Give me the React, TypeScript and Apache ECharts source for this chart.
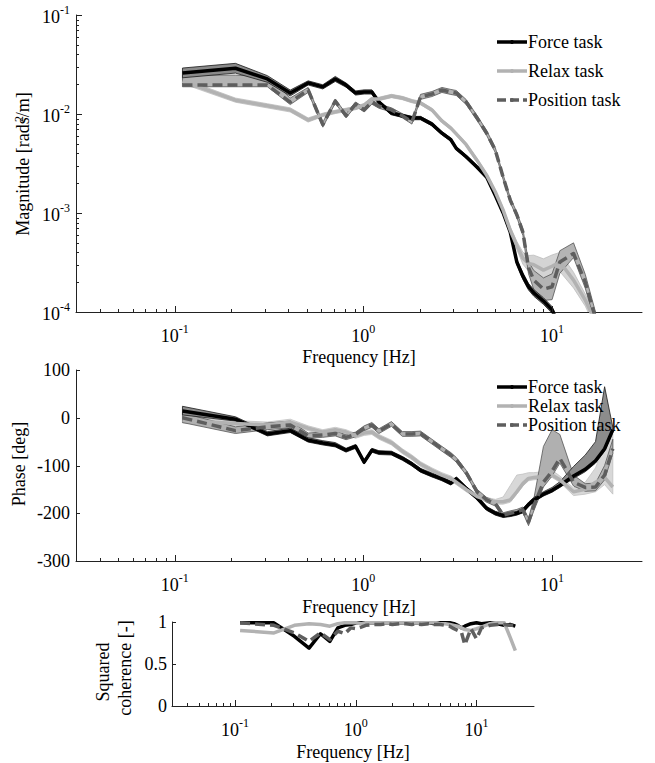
import React, { useEffect, useRef } from "react";
import * as echarts from "echarts";

// ---------------- data ----------------
const freqs = [0.11, 0.21, 0.31, 0.41, 0.51, 0.61, 0.71, 0.81, 0.91, 1.01, 1.11, 1.21, 1.41, 1.61, 1.81, 2.01, 2.31, 2.61, 2.91, 3.11, 3.51, 4.01, 4.51, 5.01, 5.51, 6.01, 6.51, 7.01, 7.51, 8.01, 9.01, 10.01, 11.01, 13.01, 15.01, 17.01, 19.01, 21.01];

const forceMag = [0.026, 0.029, 0.0226, 0.0163, 0.0206, 0.0188, 0.0226, 0.0196, 0.0163, 0.0167, 0.0167, 0.0132, 0.0102, 0.0096, 0.0091, 0.0091, 0.0079, 0.0064, 0.0055, 0.0045, 0.0037, 0.0029, 0.0023, 0.0015, 0.001, 0.00064, 0.00032, 0.00023, 0.00018, 0.000156, 0.000129, 0.000105, 0.00007, 0.00004, 0.00003, 0.00002, 0.000015, 0.00001];
const relaxMag = [0.0215, 0.0138, 0.0121, 0.011, 0.0087, 0.0098, 0.0105, 0.011, 0.0115, 0.0123, 0.0142, 0.0142, 0.0152, 0.0145, 0.0135, 0.0129, 0.011, 0.0085, 0.0072, 0.0063, 0.0049, 0.0034, 0.0024, 0.00163, 0.00107, 0.00067, 0.00047, 0.00035, 0.00031, 0.0003, 0.000265, 0.00029, 0.00032, 0.00021, 0.000132, 0.000079, 0.00005, 0.00003];
const positionMag = [0.0196, 0.0196, 0.0196, 0.0132, 0.0175, 0.0078, 0.0135, 0.0096, 0.0126, 0.011, 0.0132, 0.012, 0.011, 0.0096, 0.0083, 0.0149, 0.0159, 0.0175, 0.0167, 0.0163, 0.0132, 0.0091, 0.0064, 0.0043, 0.0023, 0.00135, 0.00096, 0.00064, 0.00028, 0.00021, 0.00017, 0.00018, 0.00032, 0.00039, 0.0002, 0.000087, 0.00005, 0.000034];

// confidence band spread (multiplicative factors up / down)
const forceMagSpread = [1.12, 1.12, 1.08, 1.07, 1.05, 1.05, 1.06, 1.05, 1.05, 1.05, 1.05, 1.04, 1.04, 1.04, 1.04, 1.04, 1.04, 1.04, 1.04, 1.04, 1.04, 1.04, 1.04, 1.04, 1.04, 1.04, 1.06, 1.08, 1.08, 1.08, 1.08, 1.08, 1.1, 1.1, 1.1, 1.1, 1.1, 1.1];
const relaxMagSpread = [1.06, 1.05, 1.05, 1.05, 1.05, 1.04, 1.04, 1.04, 1.04, 1.04, 1.04, 1.04, 1.04, 1.04, 1.04, 1.04, 1.04, 1.04, 1.04, 1.04, 1.04, 1.04, 1.05, 1.05, 1.05, 1.08, 1.1, 1.15, 1.2, 1.25, 1.3, 1.3, 1.25, 1.2, 1.15, 1.15, 1.15, 1.15];
const positionMagUp = [1.26, 1.26, 1.22, 1.1, 1.06, 1.06, 1.05, 1.05, 1.05, 1.05, 1.05, 1.05, 1.05, 1.05, 1.05, 1.06, 1.06, 1.06, 1.06, 1.06, 1.06, 1.06, 1.06, 1.06, 1.06, 1.06, 1.06, 1.08, 1.15, 1.25, 1.3, 1.35, 1.3, 1.28, 1.2, 1.15, 1.15, 1.15];
const positionMagDown = [1.04, 1.04, 1.04, 1.06, 1.06, 1.06, 1.05, 1.05, 1.05, 1.05, 1.05, 1.05, 1.05, 1.05, 1.05, 1.06, 1.06, 1.06, 1.06, 1.06, 1.06, 1.06, 1.06, 1.06, 1.06, 1.06, 1.06, 1.08, 1.15, 1.25, 1.3, 1.35, 1.3, 1.1, 1.15, 1.15, 1.15, 1.15];

const forcePhase = [14, -3, -34, -27, -47, -53, -57, -68, -60, -93, -68, -73, -74, -85, -97, -110, -120, -128, -137, -128, -148, -168, -190, -200, -205, -203, -200, -195, -182, -172, -160, -152, -142, -122, -108, -90, -65, -25];
const relaxPhase = [-5, -12, -15, -9, -22, -30, -25, -30, -38, -32, -30, -40, -52, -70, -83, -97, -110, -120, -127, -135, -150, -165, -172, -176, -176, -172, -155, -138, -127, -125, -123, -120, -130, -155, -150, -135, -125, -145];
const positionPhase = [0, -27, -19, -15, -38, -36, -33, -41, -35, -22, -15, -28, -13, -34, -34, -33, -50, -65, -78, -88, -115, -155, -172, -180, -204, -200, -197, -193, -218, -185, -135, -112, -85, -135, -146, -145, -120, -65];

// phase band spread (degrees up / down)
const forcePhaseUp = [10, 5, 5, 5, 5, 5, 5, 4, 4, 4, 4, 4, 4, 4, 4, 4, 4, 4, 4, 4, 4, 4, 4, 4, 4, 4, 4, 5, 5, 5, 5, 6, 8, 20, 30, 40, 130, 5];
const forcePhaseDown = [8, 4, 4, 4, 4, 4, 4, 4, 4, 4, 4, 4, 4, 4, 4, 4, 4, 4, 4, 4, 4, 4, 4, 4, 4, 4, 4, 4, 4, 4, 4, 4, 4, 5, 5, 5, 5, 5];
const relaxPhaseUp = [8, 6, 6, 6, 5, 5, 5, 5, 5, 5, 5, 5, 5, 5, 5, 5, 5, 5, 5, 5, 5, 5, 5, 5, 10, 30, 35, 20, 12, 10, 10, 10, 8, 8, 15, 30, 70, 110];
const relaxPhaseDown = [6, 5, 5, 5, 5, 5, 5, 5, 5, 5, 5, 5, 5, 5, 5, 5, 5, 5, 5, 5, 5, 5, 5, 5, 5, 5, 5, 5, 5, 5, 5, 5, 5, 8, 10, 20, 15, 15];
const positionPhaseUp = [10, 8, 8, 8, 6, 6, 6, 5, 5, 5, 5, 5, 5, 5, 5, 5, 5, 5, 5, 5, 5, 5, 5, 5, 5, 5, 5, 6, 8, 15, 75, 87, 50, 15, 8, 8, 20, 20];
const positionPhaseDown = [10, 6, 6, 6, 5, 5, 5, 5, 5, 5, 5, 5, 5, 5, 5, 5, 5, 5, 5, 5, 5, 5, 5, 5, 5, 5, 5, 6, 8, 10, 10, 10, 10, 8, 8, 8, 10, 10];

const forceCoh = [0.99, 0.99, 0.83, 0.69, 0.86, 0.77, 0.93, 0.96, 0.97, 0.99, 0.99, 0.99, 0.99, 0.99, 0.99, 0.99, 0.99, 0.99, 0.99, 0.99, 0.99, 0.99, 0.98, 0.99, 0.99, 0.99, 0.98, 0.96, 0.93, 0.95, 0.98, 0.99, 0.98, 0.99, 0.98, 0.96, 0.97, 0.95];
const relaxCoh = [0.9, 0.87, 0.96, 0.98, 0.97, 0.95, 0.98, 0.99, 0.99, 0.99, 0.98, 0.99, 0.99, 0.99, 0.99, 0.99, 0.99, 0.99, 0.99, 0.99, 0.99, 0.99, 0.99, 0.98, 0.98, 0.97, 0.96, 0.95, 0.93, 0.91, 0.9, 0.92, 0.94, 0.98, 0.99, 0.99, 0.82, 0.66];
const positionCoh = [0.99, 0.96, 0.87, 0.77, 0.87, 0.79, 0.89, 0.86, 0.93, 0.92, 0.94, 0.96, 0.97, 0.97, 0.98, 0.97, 0.98, 0.98, 0.97, 0.98, 0.97, 0.98, 0.97, 0.97, 0.96, 0.95, 0.92, 0.9, 0.88, 0.73, 0.92, 0.8, 0.93, 0.96, 0.97, 0.97, 0.96, 0.96];

const legendNames = ["Force task", "Relax task", "Position task"];

const xMajorTicks = [0.1, 1, 10];
const xMinorTicks = [0.04, 0.05, 0.06, 0.07, 0.08, 0.09, 0.2, 0.3, 0.4, 0.5, 0.6, 0.7, 0.8, 0.9, 2, 3, 4, 5, 6, 7, 8, 9];
const magMajorTicks = [0.0001, 0.001, 0.01, 0.1];
const magMinorTicks = [0.0002, 0.0003, 0.0004, 0.0005, 0.0006, 0.0007, 0.0008, 0.0009, 0.002, 0.003, 0.004, 0.005, 0.006, 0.007, 0.008, 0.009, 0.02, 0.03, 0.04, 0.05, 0.06, 0.07, 0.08, 0.09];
const phaseTicks = [-300, -200, -100, 0, 100];
const cohTicks = [0, 0.5, 1];

// ---------------- styles ----------------
const FONT = "Liberation Serif";
const AXIS = "#222";
const C_FORCE = "#000000";
const C_RELAX = "#b2b2b2";
const C_POS = "#5e5e5e";

const rich = {
  b: { fontSize: 18, fontFamily: FONT, fontWeight: "normal", color: "#000", lineHeight: 22, verticalAlign: "bottom" },
  s: { fontSize: 12, fontFamily: FONT, fontWeight: "normal", color: "#000", lineHeight: 5, verticalAlign: "top" },
};

function pow10Label(v: number) {
  const e = Math.log10(v);
  const r = Math.round(e);
  if (Math.abs(e - r) > 1e-6) return "";
  return `{b|10}{s|${r}}`;
}

function xTickSeries(gi: number, xs: number[], yBase: number, len: number) {
  return {
    type: "custom",
    xAxisIndex: gi,
    yAxisIndex: gi,
    silent: true,
    clip: false,
    z: 10,
    data: xs.map((f) => [f, yBase]),
    renderItem: (_p: any, api: any) => {
      const p = api.coord([api.value(0), api.value(1)]);
      const x = Math.round(p[0]) + 0.5;
      return { type: "line", shape: { x1: x, y1: p[1], x2: x, y2: p[1] - len }, style: { stroke: AXIS, lineWidth: 1 } };
    },
  };
}

function yTickSeries(gi: number, ys: number[], xBase: number, len: number) {
  return {
    type: "custom",
    xAxisIndex: gi,
    yAxisIndex: gi,
    silent: true,
    clip: false,
    z: 10,
    data: ys.map((v) => [xBase, v]),
    renderItem: (_p: any, api: any) => {
      const p = api.coord([api.value(0), api.value(1)]);
      const y = Math.round(p[1]) + 0.5;
      return { type: "line", shape: { x1: p[0], y1: y, x2: p[0] + len, y2: y }, style: { stroke: AXIS, lineWidth: 1 } };
    },
  };
}

function bandSeries(gi: number, lo: number[], hi: number[], fill: string, stroke: string, dummy: number) {
  return {
    type: "custom",
    xAxisIndex: gi,
    yAxisIndex: gi,
    silent: true,
    clip: true,
    z: 1,
    data: [[1, dummy]],
    renderItem: (_p: any, api: any) => {
      const pts: number[][] = [];
      for (let i = 0; i < freqs.length; i++) pts.push(api.coord([freqs[i], hi[i]]));
      for (let i = freqs.length - 1; i >= 0; i--) pts.push(api.coord([freqs[i], lo[i]]));
      return { type: "polygon", shape: { points: pts }, style: { fill, stroke, lineWidth: 0.8 } };
    },
  };
}

function lineSeries(gi: number, vals: number[], color: string, dashed: boolean, name: string) {
  return {
    type: "line",
    name,
    xAxisIndex: gi,
    yAxisIndex: gi,
    data: freqs.map((f, i) => [f, vals[i]]),
    showSymbol: false,
    symbol: "none",
    silent: true,
    z: 3,
    lineStyle: { color, width: 3.5, type: dashed ? [10, 5] : "solid", join: "round", cap: "butt" },
  };
}

function logX(gi: number) {
  return {
    type: "log",
    logBase: 10,
    gridIndex: gi,
    min: 0.03,
    max: 30,
    axisLine: { show: true, onZero: false, lineStyle: { color: AXIS, width: 1 } },
    axisTick: { show: false },
    minorTick: { show: false },
    splitLine: { show: false },
    axisLabel: { formatter: pow10Label, rich, margin: 11, color: "#000", fontFamily: FONT },
  };
}

function text(x: number, y: number, t: string, extra: any = {}) {
  return {
    type: "text",
    x,
    y,
    rotation: extra.rotation || 0,
    z: 20,
    style: {
      text: t,
      fontSize: extra.fontSize || 18,
      fontFamily: FONT,
      fontWeight: "normal",
      fill: "#000",
      align: extra.align || "center",
      textAlign: extra.align || "center",
      verticalAlign: "middle",
      textVerticalAlign: "middle",
    },
  };
}

function legendGraphics(ys: number[]) {
  const colors = [C_FORCE, C_RELAX, C_POS];
  const out: any[] = [];
  ys.forEach((y, i) => {
    out.push({
      type: "line",
      z: 20,
      shape: { x1: 497, y1: y, x2: 527, y2: y },
      style: { stroke: colors[i], lineWidth: 3.5, lineDash: i === 2 ? [9, 4] : null },
    });
    out.push({ type: "circle", z: 21, shape: { cx: 512, cy: y, r: 2 }, style: { fill: colors[i] } });
    out.push(text(528, y, legendNames[i], { align: "left" }));
  });
  return out;
}

export default function App() {
  const ref = useRef<HTMLDivElement>(null);
  useEffect(() => {
    if (!ref.current) return;
    const chart = echarts.init(ref.current, undefined, { renderer: "svg" });

    const forceMagLo = forceMag.map((v, i) => v / forceMagSpread[i]);
    const forceMagHi = forceMag.map((v, i) => v * forceMagSpread[i]);
    const relaxMagLo = relaxMag.map((v, i) => v / relaxMagSpread[i]);
    const relaxMagHi = relaxMag.map((v, i) => v * relaxMagSpread[i]);
    const posMagLo = positionMag.map((v, i) => v / positionMagDown[i]);
    const posMagHi = positionMag.map((v, i) => v * positionMagUp[i]);

    const forcePhLo = forcePhase.map((v, i) => v - forcePhaseDown[i]);
    const forcePhHi = forcePhase.map((v, i) => v + forcePhaseUp[i]);
    const relaxPhLo = relaxPhase.map((v, i) => v - relaxPhaseDown[i]);
    const relaxPhHi = relaxPhase.map((v, i) => v + relaxPhaseUp[i]);
    const posPhLo = positionPhase.map((v, i) => v - positionPhaseDown[i]);
    const posPhHi = positionPhase.map((v, i) => v + positionPhaseUp[i]);

    const option: any = {
      animation: false,
      backgroundColor: "#ffffff",
      textStyle: { fontFamily: FONT, fontWeight: "normal" },
      grid: [
        { left: 76, top: 15, width: 566, height: 297 },
        { left: 76, top: 370, width: 566, height: 191 },
        { left: 172, top: 622, width: 362, height: 84 },
      ],
      xAxis: [logX(0), logX(1), logX(2)],
      yAxis: [
        {
          type: "log",
          logBase: 10,
          gridIndex: 0,
          min: 0.0001,
          max: 0.1,
          axisLine: { show: true, onZero: false, lineStyle: { color: AXIS, width: 1 } },
          axisTick: { show: false },
          splitLine: { show: false },
          axisLabel: { formatter: pow10Label, rich, margin: 6, color: "#000", fontFamily: FONT },
        },
        {
          type: "value",
          gridIndex: 1,
          min: -300,
          max: 100,
          interval: 100,
          axisLine: { show: true, onZero: false, lineStyle: { color: AXIS, width: 1 } },
          axisTick: { show: false },
          splitLine: { show: false },
          axisLabel: { fontSize: 18, fontFamily: FONT, color: "#000", margin: 6 },
        },
        {
          type: "value",
          gridIndex: 2,
          min: 0,
          max: 1,
          interval: 0.5,
          axisLine: { show: true, onZero: false, lineStyle: { color: AXIS, width: 1 } },
          axisTick: { show: false },
          splitLine: { show: false },
          axisLabel: { fontSize: 18, fontFamily: FONT, color: "#000", margin: 5, formatter: (v: number) => String(v) },
        },
      ],
      series: [
        // magnitude
        bandSeries(0, relaxMagLo, relaxMagHi, "#d4d4d4", "#bdbdbd", 0.01),
        bandSeries(0, posMagLo, posMagHi, "#b4b4b4", "#555555", 0.01),
        bandSeries(0, forceMagLo, forceMagHi, "#8a8a8a", "#1a1a1a", 0.01),
        lineSeries(0, forceMag, C_FORCE, false, legendNames[0]),
        lineSeries(0, relaxMag, C_RELAX, false, legendNames[1]),
        lineSeries(0, positionMag, C_POS, true, legendNames[2]),
        // phase
        bandSeries(1, relaxPhLo, relaxPhHi, "#d8d8d8", "#c2c2c2", 0),
        bandSeries(1, posPhLo, posPhHi, "#b0b0b0", "#555555", 0),
        bandSeries(1, forcePhLo, forcePhHi, "#8c8c8c", "#1a1a1a", 0),
        lineSeries(1, forcePhase, C_FORCE, false, legendNames[0]),
        lineSeries(1, relaxPhase, C_RELAX, false, legendNames[1]),
        lineSeries(1, positionPhase, C_POS, true, legendNames[2]),
        // coherence
        lineSeries(2, forceCoh, C_FORCE, false, legendNames[0]),
        lineSeries(2, relaxCoh, C_RELAX, false, legendNames[1]),
        lineSeries(2, positionCoh, C_POS, true, legendNames[2]),
        // ticks
        xTickSeries(0, xMajorTicks, 0.0001, 6),
        xTickSeries(0, xMinorTicks, 0.0001, 3),
        xTickSeries(1, xMajorTicks, -300, 6),
        xTickSeries(1, xMinorTicks, -300, 3),
        xTickSeries(2, xMajorTicks, 0, 6),
        xTickSeries(2, xMinorTicks, 0, 3),
        yTickSeries(0, magMajorTicks, 0.03, 6),
        yTickSeries(0, magMinorTicks, 0.03, 3),
        yTickSeries(1, phaseTicks, 0.03, 4),
        yTickSeries(2, cohTicks, 0.03, 4),
      ],
      graphic: [
        text(359, 357, "Frequency [Hz]"),
        text(359, 607, "Frequency [Hz]"),
        text(353, 752, "Frequency [Hz]"),
        text(23, 164, "Magnitude [rads/m]", { rotation: Math.PI / 2 }),
        text(19, 119, "2", { rotation: Math.PI / 2, fontSize: 12 }),
        text(19, 464, "Phase [deg]", { rotation: Math.PI / 2 }),
        text(103, 672, "Squared", { rotation: Math.PI / 2 }),
        text(125, 668, "coherence [-]", { rotation: Math.PI / 2 }),
        ...legendGraphics([42, 71, 100]),
        ...legendGraphics([387, 406, 425]),
      ],
    };
    chart.setOption(option);
    return () => chart.dispose();
  }, []);
  return <div ref={ref} style={{ position: "absolute", left: 0, top: 0, width: 655, height: 763 }} />;
}
